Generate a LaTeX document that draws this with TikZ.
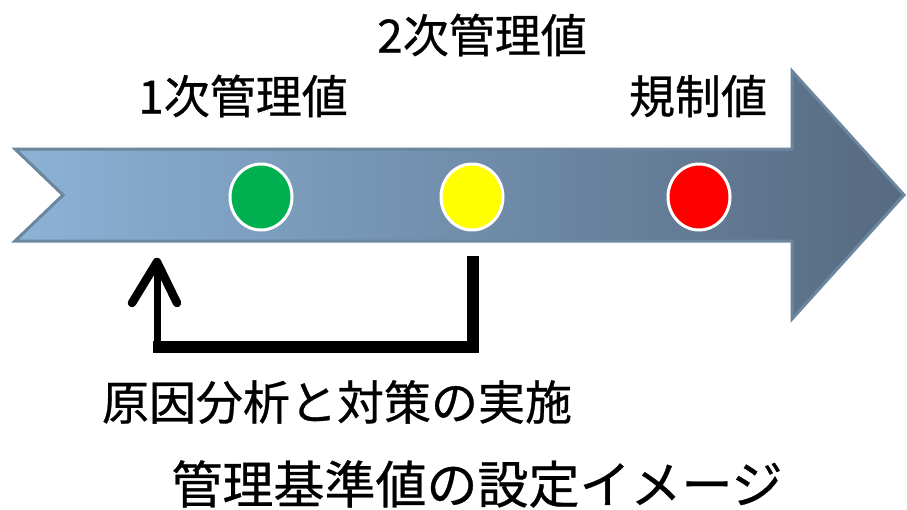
\documentclass[tikz,border=0pt]{standalone}
\usepackage{fontspec}
\newfontfamily\jpfont[FakeBold=0.6]{Noto Sans CJK JP}
\usetikzlibrary{arrows.meta,shapes.geometric}
\definecolor{arrowL}{RGB}{140,178,214}
\definecolor{arrowR}{RGB}{86,106,128}
\definecolor{arrowEdge}{RGB}{108,134,158}
\definecolor{lampGreen}{RGB}{0,176,80}
\definecolor{lampYellow}{RGB}{255,255,0}
\definecolor{lampRed}{RGB}{255,0,0}
\tikzset{
  lamp/.style={ellipse, draw=white, line width=3pt, minimum width=62pt, minimum height=66pt, inner sep=0pt},
  label45/.style={font=\jpfont\fontsize{46pt}{54pt}\selectfont, inner sep=0pt},
  label47/.style={font=\jpfont\fontsize{47pt}{56pt}\selectfont, inner sep=0pt},
  title52/.style={font=\jpfont\fontsize{51pt}{60pt}\selectfont, inner sep=0pt},
  fbline/.style={line width=12pt, line join=miter},
  fbshaft/.style={line width=7pt},
  fbhead/.style={line width=8.5pt, line cap=round, line join=round}
}
\begin{document}
\begin{tikzpicture}[x=1pt,y=-1pt]
\useasboundingbox (0,0) rectangle (907,509);
% big arrow
\draw[draw=arrowEdge, line width=3pt, line join=miter, left color=arrowL, right color=arrowR]
  (15,149) -- (792,149) -- (792,71) -- (904,195) -- (792,319) -- (792,241) -- (15,241) -- (63,195) -- cycle;
% lamps
\node[lamp, fill=lampGreen] (c1) at (261,197) {};
\node[lamp, fill=lampYellow] (c2) at (472,197) {};
\node[lamp, fill=lampRed] (c3) at (699,197) {};
% labels
\node[label45] (t1) at (243,96) {1次管理値};
\node[label45] (t2) at (482,35) {2次管理値};
\node[label45] (t3) at (698,96) {規制値};
\node[label47] (t4) at (337,402) {原因分析と対策の実施};
\node[title52] (t5) at (477,484) {管理基準値の設定イメージ};
% feedback connector
\coordinate (fbtop) at (473,256);
\coordinate (fbcorner) at (473,347);
\coordinate (fbleft) at (153,347);
\coordinate (shaftbot) at (157,341);
\coordinate (shafttop) at (157,262);
\coordinate (headL) at (132,303);
\coordinate (headR) at (177,303);
\draw[fbline] (fbtop) -- (fbcorner) -- (fbleft);
\draw[fbshaft] (shaftbot) -- (shafttop);
\draw[fbhead] (headL) -- (shafttop) -- (headR);
\end{tikzpicture}
\end{document}
